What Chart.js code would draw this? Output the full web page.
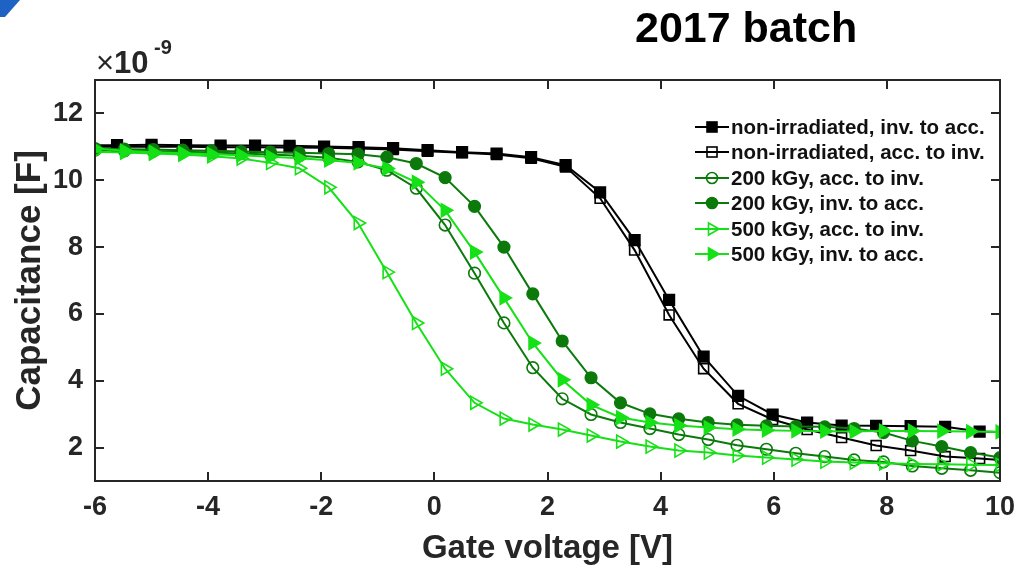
<!DOCTYPE html>
<html>
<head>
<meta charset="utf-8">
<script src="https://cdn.jsdelivr.net/npm/chart.js@4/dist/chart.umd.min.js"></script>
<style>
  body { margin: 0; background: #fff; }
  #wrap { position: relative; width: 1019px; height: 571px; font-family: "Liberation Sans", Arial, sans-serif; color: #262626; }
  #corner { position: absolute; left: 0; top: 0; width: 22px; height: 18px; background: #1e62c4;
            clip-path: polygon(0 0, 20px 0, 5px 17px, 0 17px); }
  #title { position: absolute; left: 635px; top: 6px; font-size: 43px; line-height: 43px; font-weight: bold; color: #000; white-space: nowrap; }
  #mult { position: absolute; left: 96px; top: 47px; font-size: 31px; line-height: 31px; white-space: nowrap; }
  #mult b { font-weight: bold; }
  #multExp { position: absolute; left: 154px; top: 37px; font-size: 20px; line-height: 20px; font-weight: bold; }
  #legend { position: absolute; left: 695px; top: 114px; }
  .row { display: flex; align-items: center; height: 25.5px; font-size: 20.5px; font-weight: bold; color: #111; white-space: nowrap; }
  .row svg { width: 34px; height: 20px; margin-right: 2px; }
</style>
</head>
<body>
<div id="wrap">
  <canvas id="cv" width="1019" height="571"></canvas>
  <div id="corner"></div>
  <div id="title">2017 batch</div>
  <div id="mult">×<b>10</b></div>
  <div id="multExp">-9</div>
  <div id="legend"></div>
</div>
<script>
// gate voltage sweep points (V) for the non-irradiated sample
const xNonIrr = [-6.0, -5.61, -5.00, -4.39, -3.78, -3.17, -2.56, -1.95, -1.34, -0.73, -0.12, 0.49, 1.10, 1.71,
  2.32, 2.93, 3.54, 4.15, 4.76, 5.37, 5.98, 6.59, 7.20, 7.81, 8.42, 9.03, 9.64, 10.0];
// capacitance in units of 1e-9 F
const capNonIrrInvAcc = [11.05, 11.05, 11.06, 11.05, 11.04, 11.04, 11.03, 11.01, 10.99, 10.96, 10.90, 10.84, 10.80, 10.69,
  10.45, 9.64, 8.21, 6.42, 4.72, 3.55, 2.99, 2.75, 2.66, 2.65, 2.64, 2.62, 2.48, 2.47];
const capNonIrrAccInv = [11.0, 11.0, 11.0, 11.0, 10.99, 10.99, 10.98, 10.97, 10.95, 10.92, 10.87, 10.82, 10.77, 10.66,
  10.40, 9.46, 7.91, 5.97, 4.36, 3.31, 2.84, 2.54, 2.30, 2.06, 1.91, 1.73, 1.67, 1.63];

// gate voltage sweep points (V) for the irradiated samples
const xIrr = [-6.00, -5.48, -4.97, -4.45, -3.94, -3.42, -2.90, -2.39, -1.87, -1.35, -0.84, -0.32, 0.19, 0.71, 1.23, 1.74,
  2.26, 2.77, 3.29, 3.81, 4.32, 4.84, 5.35, 5.87, 6.39, 6.90, 7.42, 7.94, 8.45, 8.97, 9.48, 10.00];
const cap200AccInv = [10.9, 10.88, 10.87, 10.85, 10.83, 10.8, 10.77, 10.73, 10.67, 10.55, 10.3, 9.76, 8.66, 7.22, 5.73, 4.39,
  3.46, 2.99, 2.75, 2.57, 2.39, 2.24, 2.07, 1.95, 1.83, 1.73, 1.63, 1.57, 1.45, 1.38, 1.32, 1.25];
const cap200InvAcc = [10.95, 10.93, 10.92, 10.9, 10.88, 10.86, 10.84, 10.82, 10.8, 10.78, 10.69, 10.5, 10.08, 9.22, 8.0, 6.6,
  5.19, 4.09, 3.34, 3.01, 2.86, 2.75, 2.68, 2.65, 2.63, 2.62, 2.57, 2.45, 2.2, 2.03, 1.85, 1.7];
const cap500AccInv = [10.85, 10.83, 10.8, 10.77, 10.72, 10.65, 10.52, 10.36, 9.79, 8.72, 7.25, 5.73, 4.36, 3.34, 2.87, 2.69,
  2.54, 2.36, 2.18, 2.03, 1.91, 1.85, 1.76, 1.70, 1.64, 1.58, 1.55, 1.53, 1.51, 1.5, 1.49, 1.48];
const cap500InvAcc = [10.95, 10.88, 10.84, 10.81, 10.78, 10.75, 10.7, 10.66, 10.6, 10.52, 10.35, 9.94, 9.1, 7.85, 6.48, 5.13,
  4.03, 3.28, 2.9, 2.75, 2.66, 2.6, 2.55, 2.52, 2.5, 2.49, 2.48, 2.5, 2.5, 2.49, 2.48, 2.47];

const voltTicks = [-6, -4, -2, 0, 2, 4, 6, 8, 10];
const capTicks = [2, 4, 6, 8, 10, 12];

const FONT = '"Liberation Sans", Arial, sans-serif';
const AXIS = '#262626';
const BLACK = '#000000';
const DARK_GREEN = '#0b7a0b';
const LIGHT_GREEN = '#16e016';

const toPoints = (xs, ys) => xs.map((x, i) => ({ x, y: ys[i] }));

// sweep ends of the non-irradiated curves carry no marker
const endless = (r) => (c) => (c.raw && (c.raw.x === -6 || c.raw.x === 10)) ? 0 : r;

const series = [
  { label: 'non-irradiated, inv. to acc.', x: xNonIrr, y: capNonIrrInvAcc, color: BLACK, style: 'rect', filled: true, r: endless(7.5) },
  { label: 'non-irradiated, acc. to inv.', x: xNonIrr, y: capNonIrrAccInv, color: BLACK, style: 'rect', filled: false, r: endless(7) },
  { label: '200 kGy, acc. to inv.', x: xIrr, y: cap200AccInv, color: DARK_GREEN, style: 'circle', filled: false, r: 5.8 },
  { label: '200 kGy, inv. to acc.', x: xIrr, y: cap200InvAcc, color: DARK_GREEN, style: 'circle', filled: true, r: 5.8 },
  { label: '500 kGy, acc. to inv.', x: xIrr, y: cap500AccInv, color: LIGHT_GREEN, style: 'triangle', filled: false, r: 7.5 },
  { label: '500 kGy, inv. to acc.', x: xIrr, y: cap500InvAcc, color: LIGHT_GREEN, style: 'triangle', filled: true, r: 7.5 },
];

const datasets = series.map((s, i) => ({
  label: s.label,
  data: toPoints(s.x, s.y),
  borderColor: s.color,
  borderWidth: 2,
  pointStyle: s.style,
  pointRotation: s.style === 'triangle' ? 90 : 0,
  pointRadius: s.r,
  pointBorderWidth: 1.6,
  pointBorderColor: s.color,
  pointBackgroundColor: s.filled ? s.color : 'rgba(0,0,0,0)',
  tension: 0,
  order: series.length - i, // later curves sit on top
}));

// axes box with inward ticks on all four sides
const boxPlugin = {
  id: 'box',
  afterDatasetsDraw(chart) {
    const { ctx, chartArea: { left, right, top, bottom }, scales: { x, y } } = chart;
    ctx.save();
    ctx.strokeStyle = AXIS;
    ctx.lineWidth = 2;
    ctx.strokeRect(left, top, right - left, bottom - top);
    ctx.beginPath();
    x.ticks.forEach((t) => {
      const px = Math.round(x.getPixelForValue(t.value));
      ctx.moveTo(px, bottom); ctx.lineTo(px, bottom - 9);
      ctx.moveTo(px, top); ctx.lineTo(px, top + 9);
    });
    y.ticks.forEach((t) => {
      const py = Math.round(y.getPixelForValue(t.value));
      ctx.moveTo(left, py); ctx.lineTo(left + 9, py);
      ctx.moveTo(right, py); ctx.lineTo(right - 9, py);
    });
    ctx.stroke();
    ctx.restore();
  },
};

new Chart(document.getElementById('cv'), {
  type: 'line',
  data: { datasets },
  options: {
    responsive: false,
    animation: false,
    devicePixelRatio: 1,
    layout: { padding: { top: 80, right: 19, left: 0, bottom: 0 } },
    plugins: { legend: { display: false }, tooltip: { enabled: false } },
    scales: {
      x: {
        type: 'linear',
        min: -6,
        max: 10,
        afterBuildTicks: (s) => { s.ticks = voltTicks.map((v) => ({ value: v })); },
        afterFit: (s) => { s.height = 90; s.paddingLeft = 0; s.paddingRight = 0; },
        grid: { display: false, drawTicks: false },
        border: { display: false },
        ticks: { autoSkip: false, maxRotation: 0, padding: 10, color: AXIS, font: { family: FONT, size: 27, weight: 'bold' } },
        title: { display: true, text: 'Gate voltage [V]', color: AXIS, padding: { top: 0, bottom: 2 },
                 font: { family: FONT, size: 33, weight: 'bold' } },
      },
      y: {
        type: 'linear',
        min: 1,
        max: 13,
        afterBuildTicks: (s) => { s.ticks = capTicks.map((v) => ({ value: v })); },
        afterFit: (s) => { s.width = 95; s.paddingTop = 0; s.paddingBottom = 0; },
        grid: { display: false, drawTicks: false },
        border: { display: false },
        ticks: { autoSkip: false, padding: 12, color: AXIS, font: { family: FONT, size: 27, weight: 'bold' } },
        title: { display: true, text: 'Capacitance [F]', color: AXIS, padding: { top: 9, bottom: 0 },
                 font: { family: FONT, size: 35, weight: 'bold' } },
      },
    },
  },
  plugins: [boxPlugin],
});

// legend entries: line sample with the series marker, then the label
const markerSvg = (s) => {
  const fill = s.filled ? s.color : 'none';
  let m;
  if (s.style === 'rect') m = `<rect x="12" y="5" width="10" height="10" fill="${fill}" stroke="${s.color}" stroke-width="1.6"/>`;
  else if (s.style === 'circle') m = `<circle cx="17" cy="10" r="5.5" fill="${fill}" stroke="${s.color}" stroke-width="1.6"/>`;
  else m = `<polygon points="24,10 13.5,4 13.5,16" fill="${fill}" stroke="${s.color}" stroke-width="1.6"/>`;
  return `<svg viewBox="0 0 34 20"><line x1="0" y1="10" x2="34" y2="10" stroke="${s.color}" stroke-width="2"/>${m}</svg>`;
};
document.getElementById('legend').innerHTML = series
  .map((s) => `<div class="row">${markerSvg(s)}<span>${s.label}</span></div>`)
  .join('');
</script>
</body>
</html>
